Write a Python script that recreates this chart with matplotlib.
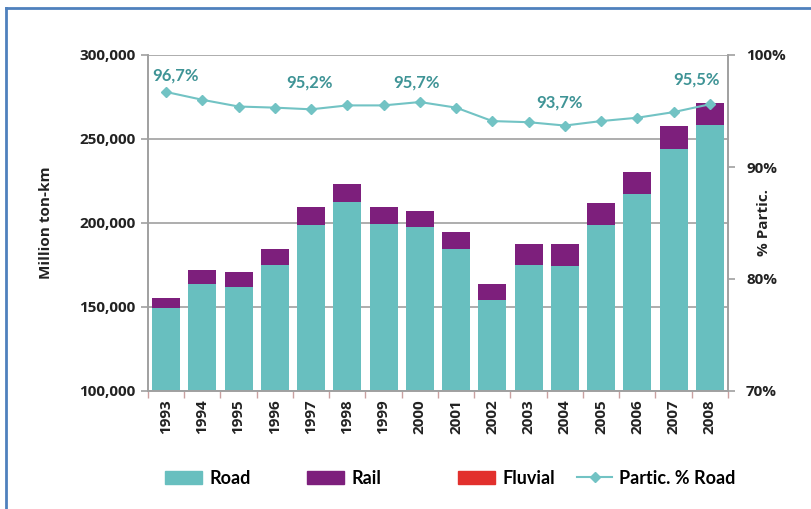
import matplotlib.pyplot as plt
import numpy as np
from matplotlib.lines import Line2D
from matplotlib.patches import Patch

years = ['1993', '1994', '1995', '1996', '1997', '1998', '1999', '2000',
         '2001', '2002', '2003', '2004', '2005', '2006', '2007', '2008']
road = [149.5, 163.7, 162.0, 175.2, 198.6, 212.3, 199.2, 197.8,
        184.7, 154.0, 175.0, 174.6, 198.8, 217.1, 243.9, 258.3]
total = [155.4, 172.0, 170.6, 184.5, 209.3, 223.2, 209.3, 207.1,
         194.4, 163.9, 187.3, 187.3, 211.9, 230.6, 257.7, 271.2]
fluvial = [0.0] * 16
partic = [96.7, 96.0, 95.4, 95.3, 95.15, 95.5, 95.5, 95.8,
          95.3, 94.1, 94.0, 93.7, 94.1, 94.4, 94.9, 95.6]
# annotated points: index, text, label offset from point (pixels)
label_idx = [0, 4, 7, 11, 15]
label_txt = ['96,7%', '95,2%', '95,7%', '93,7%', '95,5%']
label_off = [(9, 16), (-2, 27), (-3, 20), (-5, 23), (-13, 25)]

road_k = np.array(road) * 1000
rail_k = (np.array(total) - np.array(road)) * 1000
fluv_k = np.array(fluvial) * 1000

TEAL = '#68bfbf'
PURPLE = '#7d1f7c'
RED = '#e2302d'
LINE = '#72c3c4'
LABEL = '#3f9496'
GRID = '#a0a0a0'
TXT = '#222222'
TICKFONT = dict(fontfamily='Open Sans', fontweight='bold', fontsize=11, color=TXT)

fig = plt.figure(figsize=(8.12, 5.09), dpi=100)
ax = fig.add_axes([148 / 812, 1 - 391 / 509, 580 / 812, 336 / 509])
ax2 = ax.twinx()

x = np.arange(len(years))
ax.bar(x, road_k, width=0.77, color=TEAL, zorder=2)
ax.bar(x, rail_k, width=0.77, bottom=road_k, color=PURPLE, zorder=2)
ax.bar(x, fluv_k, width=0.77, bottom=road_k + rail_k, color=RED, zorder=2)

yt = [100000, 150000, 200000, 250000, 300000]
ax.set_ylim(100000, 300000)
ax.set_xlim(-0.5, len(years) - 0.5)
ax.set_yticks(yt)
ax.set_yticklabels([f'{v:,}' for v in yt], **TICKFONT)
ax.yaxis.grid(True, color=GRID, linewidth=1.2, zorder=0)
ax.set_axisbelow(True)
ax.set_xticks(x)
ax.set_xticklabels(years, rotation=90, **TICKFONT)
ax.tick_params(axis='x', length=0, pad=6)
ax.set_xticks(np.arange(-0.5, len(years), 1), minor=True)
ax.tick_params(axis='x', which='minor', length=5, color='#c9a0a0', width=1)
ax.tick_params(axis='y', length=5, color=GRID, width=1.2, pad=4)
ax.set_ylabel('Million ton-km', **TICKFONT)
ax.yaxis.set_label_coords((53 - 148) / 580, 0.5)

for a in (ax, ax2):
    a.spines['top'].set_visible(False)
    for sp in ['left', 'right', 'bottom']:
        a.spines[sp].set_color(GRID)
        a.spines[sp].set_linewidth(1.2)

ax2.plot(x, partic, color=LINE, linewidth=1.5, marker='D', markersize=5.5,
         markerfacecolor=LINE, markeredgecolor=LINE, zorder=3)
ax2.set_ylim(70, 100)
ax2.set_yticks([70, 80, 90, 100])
ax2.set_yticklabels(['70%', '80%', '90%', '100%'], **TICKFONT)
ax2.tick_params(axis='y', length=5, color=GRID, width=1.2, pad=8)
ax2.set_ylabel('% Partic.', **TICKFONT)
ax2.yaxis.set_label_coords((757 - 148) / 580, 0.5)

for i, txt, off in zip(label_idx, label_txt, label_off):
    ax2.annotate(txt, (x[i], partic[i]), xytext=off, textcoords='offset pixels',
                 ha='center', va='center', fontfamily='Lato', fontweight='bold',
                 fontsize=12, color=LABEL)

# legend entries placed one by one, like the spreadsheet layout
lg_handles = [Patch(color=TEAL, label='Road'), Patch(color=PURPLE, label='Rail'),
              Patch(color=RED, label='Fluvial'),
              Line2D([0], [0], color=LINE, marker='D', markersize=5, linewidth=1.5,
                     label='Partic. % Road')]
lg_x = [165, 307, 458, 577]
for h, lx in zip(lg_handles, lg_x):
    hl = 1.95 if isinstance(h, Line2D) else 2.05
    fig.legend(handles=[h], loc='center left', bbox_to_anchor=(lx / 812, 1 - 478 / 509),
               frameon=False, prop={'family': 'Lato', 'weight': 'bold', 'size': 13},
               handlelength=hl, handleheight=0.7, handletextpad=0.4,
               borderpad=0, borderaxespad=0)

# blue frame
fig.add_artist(Line2D([6 / 812, 6 / 812], [0, 1 - 8 / 509], color='#4f81bd',
                      linewidth=2, transform=fig.transFigure))
fig.add_artist(Line2D([6 / 812, 1], [1 - 8 / 509, 1 - 8 / 509], color='#4f81bd',
                      linewidth=2, transform=fig.transFigure))

fig.savefig('out.png', dpi=100)
